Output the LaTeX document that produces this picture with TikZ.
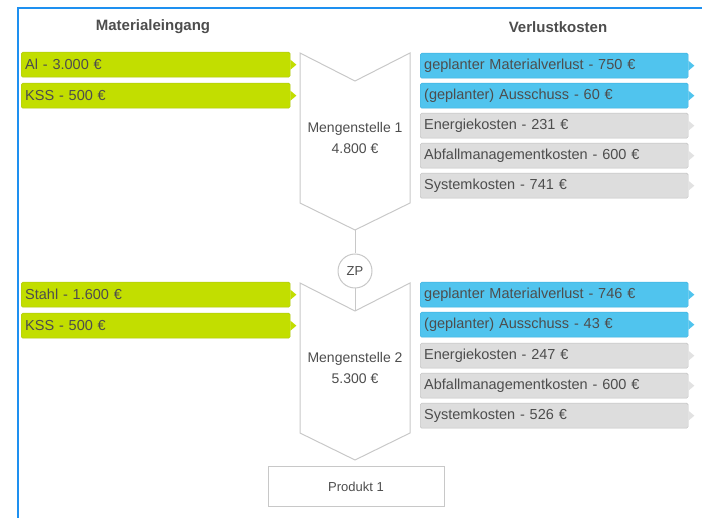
\documentclass[tikz,border=0pt]{standalone}
\usepackage{fontspec}
\setmainfont{Liberation Sans}
\usetikzlibrary{calc}
\definecolor{frameblue}{RGB}{30,144,240}
\definecolor{matgreen}{RGB}{194,222,0}
\definecolor{matgreenline}{RGB}{172,198,20}
\definecolor{lossblue}{RGB}{80,196,238}
\definecolor{lossblueline}{RGB}{62,176,222}
\definecolor{costgrey}{RGB}{221,221,221}
\definecolor{costgreyline}{RGB}{192,192,192}
\definecolor{tipgrey}{RGB}{226,226,226}
\definecolor{shapegrey}{RGB}{200,200,200}
\definecolor{txtgrey}{RGB}{77,77,77}
\newcommand\boxTip[2]{\fill[#2] ($(#1.east)+(0,-5)$) -- ($(#1.east)+(6,0)$) -- ($(#1.east)+(0,5)$) -- cycle;}

\tikzset{
  rowbox/.style={draw, rounded corners=1.5pt, anchor=north west, minimum height=25pt,
    text width=#1, inner xsep=4pt, inner ysep=0pt, align=left, text=txtgrey,
    font=\fontsize{14.5}{16}\selectfont},
  header/.style={text=txtgrey, font=\fontsize{15}{17}\selectfont\bfseries},
  stelle/.style={align=center, text=txtgrey, font=\fontsize{14}{21}\selectfont},
  outline/.style={draw=shapegrey, line width=1pt}
}

\begin{document}
\begin{tikzpicture}[x=1pt,y=-1pt]
  \useasboundingbox (0,0) rectangle (702,518);
  \draw[frameblue, line width=2pt] (18,530) -- (18,8) -- (715,8);

  %% Column headers
  \node[header] (HIN)  at (153,27) {Materialeingang};
  \node[header] (HOUT) at (558,27) {Verlustkosten};

  %% Material inputs (green)
  \foreach \n/\y/\t in {1/52/{Al - 3.000 €}, 2/83/{KSS - 500 €},
                        3/282/{Stahl - 1.600 €}, 4/313/{KSS - 500 €}}
  {
    \node[rowbox=261pt, fill=matgreen, draw=matgreenline] (IN\n) at (21,\y) {\t};
    \boxTip{IN\n}{matgreen}
  }

  %% Loss costs (blue = planned losses, grey = other costs)
  \foreach \n/\y/\t/\c/\l/\p in {
      1/53/{geplanter Materialverlust - 750 €}/lossblue/lossblueline/lossblue,
      2/83/{(geplanter) Ausschuss - 60 €}/lossblue/lossblueline/lossblue,
      3/113/{Energiekosten - 231 €}/costgrey/costgreyline/tipgrey,
      4/143/{Abfallmanagementkosten - 600 €}/costgrey/costgreyline/tipgrey,
      5/173/{Systemkosten - 741 €}/costgrey/costgreyline/tipgrey,
      6/282/{geplanter Materialverlust - 746 €}/lossblue/lossblueline/lossblue,
      7/312/{(geplanter) Ausschuss - 43 €}/lossblue/lossblueline/lossblue,
      8/343/{Energiekosten - 247 €}/costgrey/costgreyline/tipgrey,
      9/373/{Abfallmanagementkosten - 600 €}/costgrey/costgreyline/tipgrey,
      10/403/{Systemkosten - 526 €}/costgrey/costgreyline/tipgrey}
  {
    \node[rowbox=260pt, fill=\c, draw=\l] (OUT\n) at (420,\y) {\t};
    \boxTip{OUT\n}{\p}
  }

  %% Mengenstellen as chevrons
  \foreach \s/\top/\bot in {1/53/203, 2/283/433}
  {
    \draw[outline] (300,\top) -- ($(355,\top)+(0,28)$) -- (410,\top)
      -- (410,\bot) -- ($(355,\bot)+(0,27)$) -- (300,\bot) -- cycle;
    \coordinate (MS\s top) at ($(355,\top)+(0,28)$);
    \coordinate (MS\s bot) at ($(355,\bot)+(0,27)$);
  }
  \node[stelle] (MS1) at (355,138) {Mengenstelle 1\\4.800 €};
  \node[stelle] (MS2) at (355,368) {Mengenstelle 2\\5.300 €};

  %% Zwischenprodukt
  \node[circle, outline, fill=white, minimum size=34pt, inner sep=0pt, text=txtgrey,
        font=\fontsize{13}{15}\selectfont] (ZP) at (355,271) {ZP};
  \draw[outline] (MS1bot) -- (ZP);
  \draw[outline] (ZP) -- (MS2top);

  %% End product
  \node[outline, minimum width=176pt, minimum height=40pt, text=txtgrey,
        font=\fontsize{13}{15}\selectfont] (PROD) at (356,487) {Produkt 1};
\end{tikzpicture}
\end{document}
